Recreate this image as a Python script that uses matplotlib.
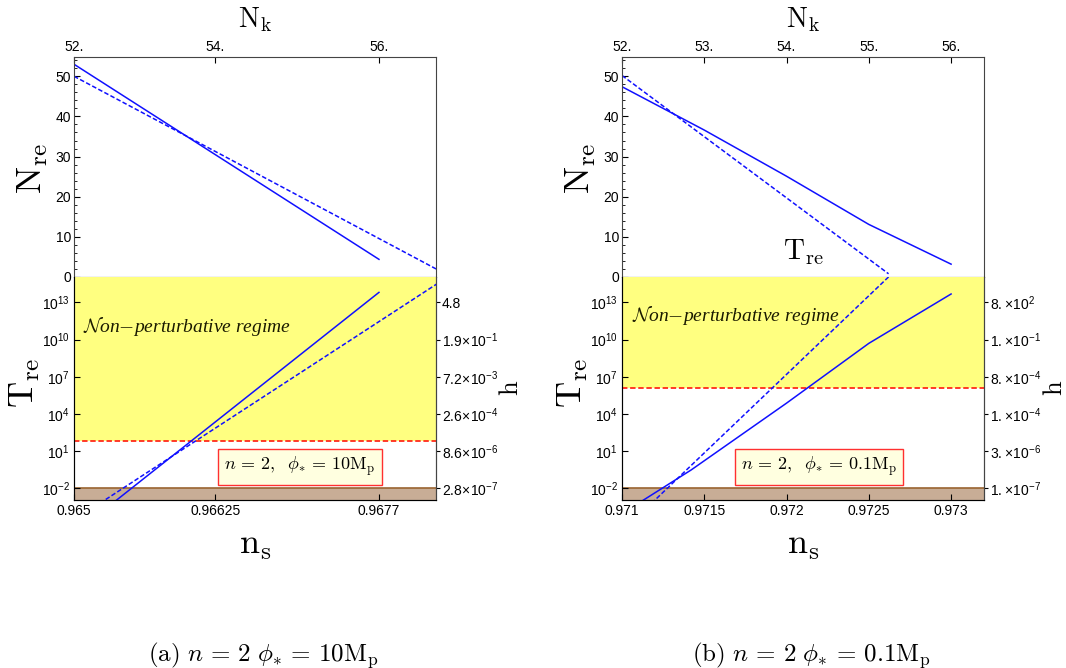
# reheating plots: N_re and T_re vs n_s, two panels
import numpy as np
import matplotlib.pyplot as plt

plt.rcParams['font.family'] = 'Liberation Sans'
plt.rcParams['mathtext.fontset'] = 'custom'
plt.rcParams['mathtext.rm'] = 'Liberation Sans'
plt.rcParams['mathtext.it'] = 'Liberation Sans:italic'

# ---- panel (a): n=2, phi*=10 Mp ----
a_ns_ticks = [0.965, 0.96625, 0.9677]
a_ns_labels = ['0.965', '0.96625', '0.9677']
a_nk_labels = ['52.', '54.', '56.']
a_xlim = [0.965, 0.968205]
a_ns_nre_solid = [0.965, 0.9677]
a_nre_solid = [53.0, 4.4]
a_ns_nre_dash = [0.965, 0.9683]
a_nre_dash = [50.0, 0.6]
a_ns_tre_solid = [0.965342, 0.9677]
a_logtre_solid = [-3.2, 13.8]
a_ns_tre_dash = [0.96523, 0.9683]
a_logtre_dash = [-3.2, 15.0]
a_log_tnp = 1.84
a_h_labels = ['4.8', r'$1.9\!\times\!10^{-1}$', r'$7.2\!\times\!10^{-3}$',
              r'$2.6\!\times\!10^{-4}$', r'$8.6\!\times\!10^{-6}$', r'$2.8\!\times\!10^{-7}$']

# ---- panel (b): n=2, phi*=0.1 Mp ----
b_ns_ticks = [0.971, 0.9715, 0.972, 0.9725, 0.973]
b_ns_labels = ['0.971', '0.9715', '0.972', '0.9725', '0.973']
b_nk_labels = ['52.', '53.', '54.', '55.', '56.']
b_xlim = [0.971, 0.9732]
b_ns_nre_solid = [0.971, 0.9715, 0.972, 0.9725, 0.973]
b_nre_solid = [47.4, 36.6, 25.1, 13.1, 3.2]
b_ns_nre_dash = [0.971, 0.97262]
b_nre_dash = [50.2, 0.8]
b_ns_tre_solid = [0.9711, 0.97142, 0.972, 0.9725, 0.973]
b_logtre_solid = [-3.2, -0.52, 4.87, 9.69, 13.67]
b_ns_tre_dash = [0.97118, 0.97264]
b_logtre_dash = [-3.2, 15.3]
b_log_tnp = 6.11
b_h_labels = [r'$8.\!\times\!10^{2}$', r'$1.\!\times\!10^{-1}$', r'$8.\!\times\!10^{-4}$',
              r'$1.\!\times\!10^{-4}$', r'$3.\!\times\!10^{-6}$', r'$1.\!\times\!10^{-7}$']

t_ticks = [1e13, 1e10, 1e7, 1e4, 1e1, 1e-2]
t_labels = [r'$10^{13}$', r'$10^{10}$', r'$10^{7}$', r'$10^{4}$', r'$10^{1}$', r'$10^{-2}$']
nre_ticks = [0, 10, 20, 30, 40, 50]

W, H = 1066, 668
fig = plt.figure(figsize=[W/100, H/100], dpi=100)


def px(x0, y0, x1, y1):
    return [x0/W, 1-y1/H, (x1-x0)/W, (y1-y0)/H]


def ftext(x, y, s, **kw):
    kw.setdefault('math_fontfamily', 'cm')
    fig.text(x/W, 1-y/H, s, ha='center', va='center', **kw)


blue = '#1010ff'
tick_fs = 10


def panel(x0, x1, xlim, ns_ticks, ns_labels, nk_labels,
          ns_ns, nre_s, ns_nd, nre_d, ns_ts, lt_s, ns_td, lt_d, log_tnp, h_labels):
    # top panel: N_re
    ax1 = fig.add_axes(px(x0, 57, x1, 277))
    ax1.plot(ns_ns, nre_s, '-', color=blue, lw=1.1)
    ax1.plot(ns_nd, nre_d, '--', color=blue, lw=1.1, dashes=(3, 1.5))
    ax1.set_xlim(xlim)
    ax1.set_ylim(0.8, 54.8)
    ax1.set_yticks(nre_ticks)
    ax1.set_yticks(range(2, 55, 2), minor=True)
    ax1.set_xticks(ns_ticks)
    ax1.set_xticklabels(nk_labels)
    ax1.tick_params(axis='x', which='both', top=True, bottom=False, labeltop=True,
                    labelbottom=False, direction='in', length=4, labelsize=tick_fs, pad=2)
    ax1.tick_params(axis='y', which='major', direction='in', length=4, labelsize=tick_fs, pad=2)
    ax1.tick_params(axis='y', which='minor', direction='in', length=2)
    for s in ax1.spines.values():
        s.set_color('#444444')
    ax1.spines['bottom'].set_color('black')

    # bottom panel: T_re
    ax2 = fig.add_axes(px(x0, 277, x1, 500))
    ax2.set_yscale('log')
    ylo, yhi = 10**-2.94, 10**15.04
    ax2.axhspan(10**log_tnp, 1e17, color='#ffff80', lw=0, zorder=0)
    ax2.axhspan(1e-5, 1e-2, color='#c8ad96', lw=0, zorder=0)
    ax2.axhline(1e-2, color='#9a6430', lw=1.2, zorder=1)
    ax2.axhline(10**log_tnp, color='#ff2a1a', lw=1.3, ls=(0, (3, 1.5)), zorder=1)
    ax2.plot(ns_ts, 10**np.array(lt_s), '-', color=blue, lw=1.1, zorder=3)
    ax2.plot(ns_td, 10**np.array(lt_d), '--', color=blue, lw=1.1, dashes=(3, 1.5), zorder=3)
    ax2.set_xlim(xlim)
    ax2.set_ylim(ylo, yhi)
    ax2.set_yticks(t_ticks)
    ax2.set_yticklabels(t_labels)
    ax2.minorticks_off()
    ax2.set_xticks(ns_ticks)
    ax2.set_xticklabels(ns_labels)
    ax2.tick_params(axis='both', direction='in', length=4, labelsize=tick_fs, pad=3)
    ax2.spines['top'].set_visible(False)
    for k in ['left', 'right', 'bottom']:
        ax2.spines[k].set_color('#444444')
    axh = ax2.twinx()
    axh.set_yscale('log')
    axh.set_ylim(ylo, yhi)
    axh.set_yticks(t_ticks)
    axh.set_yticklabels(h_labels)
    axh.minorticks_off()
    axh.tick_params(axis='y', direction='out', length=3, labelsize=tick_fs, pad=1)
    axh.spines['top'].set_visible(False)
    axh.spines['right'].set_color('#444444')
    return ax1, ax2


panel(74, 436, a_xlim, a_ns_ticks, a_ns_labels, a_nk_labels,
      a_ns_nre_solid, a_nre_solid, a_ns_nre_dash, a_nre_dash,
      a_ns_tre_solid, a_logtre_solid, a_ns_tre_dash, a_logtre_dash,
      a_log_tnp, a_h_labels)
panel(622, 984, b_xlim, b_ns_ticks, b_ns_labels, b_nk_labels,
      b_ns_nre_solid, b_nre_solid, b_ns_nre_dash, b_nre_dash,
      b_ns_tre_solid, b_logtre_solid, b_ns_tre_dash, b_logtre_dash,
      b_log_tnp, b_h_labels)

# labels
for cx, lx, hx in [(255, 33, 511), (803, 581, 1055)]:
    ftext(cx, 20, r'$\mathrm{N_k}$', fontsize=20)
    ftext(lx, 168, r'$\mathrm{N_{re}}$', fontsize=26, rotation=90)
    ftext(lx - 8, 383, r'$\mathrm{T_{re}}$', fontsize=26, rotation=90)
    ftext(hx, 388, r'$\mathrm{h}$', fontsize=19, rotation=90)
    ftext(cx, 545, r'$\mathrm{n_s}$', fontsize=26)

ftext(803, 252, r'$\mathrm{T_{re}}$', fontsize=21)

regime = r'$\mathcal{N}$on$-$perturbative regime'
for rx, ry in [(187, 326), (736, 315)]:
    ftext(rx, ry, regime, fontsize=14, color='#1a1a00',
          family='Liberation Serif', style='italic')

box = dict(boxstyle='square,pad=0.35', fc='#ffffe0', ec='#ff3030', lw=1.0)
ftext(300, 467, r'$n\,=\,2,\;\ \phi_{*}\,=\,10\mathrm{M_p}$', fontsize=13, bbox=box)
ftext(819, 467, r'$n\,=\,2,\;\ \phi_{*}\,=\,0.1\mathrm{M_p}$', fontsize=13, bbox=box)

ftext(263, 655, r'$\mathrm{(a)}\ n\,=\,2\ \phi_{*}\,=\,10\mathrm{M_p}$', fontsize=18)
ftext(811, 655, r'$\mathrm{(b)}\ n\,=\,2\ \phi_{*}\,=\,0.1\mathrm{M_p}$', fontsize=18)

plt.savefig('out.png', dpi=100)
